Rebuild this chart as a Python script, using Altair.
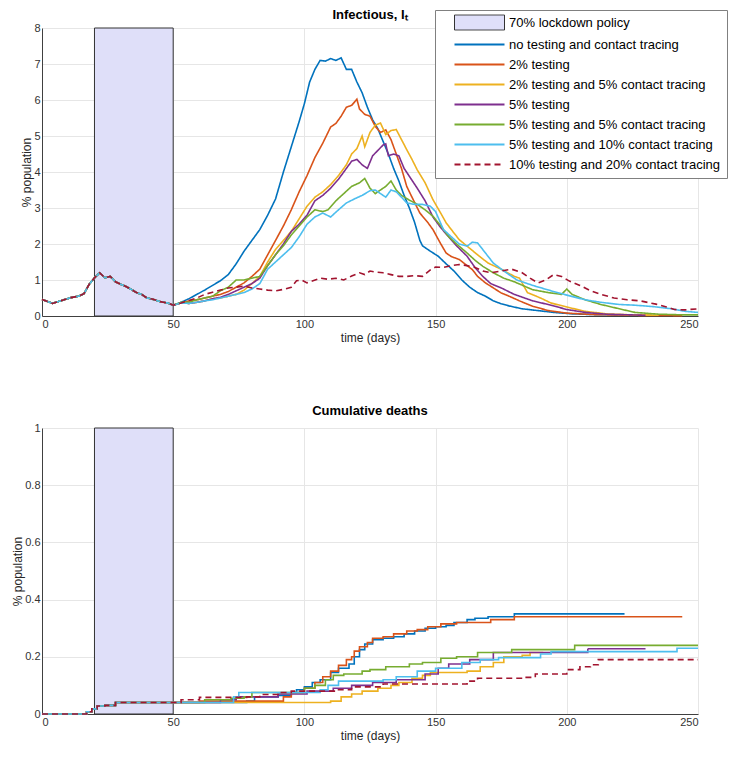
import altair as alt
import pandas as pd

# ---------------- names & colours ----------------
LD = "70% lockdown policy"
SERIES = [
    "no testing and contact tracing",
    "2% testing",
    "2% testing and 5% contact tracing",
    "5% testing",
    "5% testing and 5% contact tracing",
    "5% testing and 10% contact tracing",
    "10% testing and 20% contact tracing",
]
COLORS = ["#0072BD", "#D95319", "#EDB120", "#7E2F8E", "#77AC30", "#4DBEEE", "#A2142F"]
LD_FILL = "#DFDFF9"
LD_EDGE = "#333333"
LD_START = [20]
LD_END = [50]

# ---------------- infectious (top) ----------------
common_days = [0, 4, 7, 11, 14, 16, 18, 20, 22, 24, 26, 28, 30, 32, 34, 36, 38, 40, 42, 45, 48, 50]
common_vals = [0.46, 0.35, 0.42, 0.51, 0.55, 0.62, 0.88, 1.06, 1.2, 1.06, 1.1, 0.95, 0.88, 0.82, 0.74, 0.65, 0.6, 0.5, 0.47, 0.4, 0.36, 0.3]

inf_days = {
    SERIES[0]: [53, 56, 59, 62, 65, 68, 71, 74, 77, 80, 83, 86, 89, 92, 95, 98, 100, 102, 104, 106, 108, 110, 112, 114, 116, 118, 120, 122, 124, 126, 128, 130, 132, 134, 136, 138, 140, 142, 144, 145, 148, 151, 154, 157, 160, 163, 166, 169, 172, 175, 178, 183, 189, 195, 202, 210, 221],
    SERIES[1]: [53, 56, 59, 62, 65, 68, 71, 74, 77, 80, 83, 86, 89, 92, 95, 98, 101, 104, 107, 110, 112, 114, 116, 118, 120, 121, 123, 125, 127, 129, 131, 133, 135, 137, 139, 141, 144, 147, 149, 152, 154, 156, 159, 162, 164, 166, 169, 172, 175, 178, 182, 187, 193, 200, 210, 225, 244],
    SERIES[2]: [53, 56, 59, 62, 65, 68, 71, 74, 77, 80, 83, 86, 89, 92, 95, 98, 101, 104, 107, 110, 113, 116, 118, 120, 122, 123, 125, 127, 129, 131, 133, 135, 137, 139, 141, 143, 146, 149, 152, 154, 156, 159, 162, 166, 170, 175, 180, 182, 185, 190, 194, 200, 207, 215, 225, 235],
    SERIES[3]: [53, 56, 59, 62, 65, 68, 71, 74, 77, 80, 83, 86, 89, 92, 95, 98, 101, 104, 107, 110, 113, 116, 118, 120, 122, 124, 126, 128, 130, 131, 132, 134, 136, 138, 140, 143, 146, 149, 152, 155, 158, 162, 165, 168, 171, 175, 180, 187, 194, 200, 207, 215, 230],
    SERIES[4]: [53, 56, 59, 62, 65, 68, 71, 74, 77, 80, 83, 86, 89, 92, 95, 98, 101, 104, 107, 109, 112, 115, 118, 121, 123, 125, 127, 129, 131, 133, 135, 137, 140, 143, 146, 149, 152, 155, 158, 162, 165, 168, 172, 176, 180, 187, 193, 198, 200, 202, 207, 213, 220, 226, 235, 245, 250],
    SERIES[5]: [53, 56, 59, 62, 65, 68, 71, 74, 77, 80, 83, 86, 89, 92, 95, 98, 101, 104, 107, 110, 113, 116, 119, 122, 125, 127, 129, 131, 133, 135, 137, 139, 142, 145, 148, 150, 153, 156, 159, 162, 164, 166, 169, 172, 176, 181, 187, 194, 200, 207, 213, 220, 226, 233, 240, 245, 250],
    SERIES[6]: [53, 56, 59, 62, 65, 68, 71, 74, 77, 80, 83, 86, 89, 92, 95, 97, 99, 101, 103, 106, 109, 112, 115, 118, 121, 123, 125, 127, 130, 133, 136, 139, 142, 145, 148, 150, 153, 156, 159, 162, 165, 168, 171, 175, 179, 183, 186, 189, 192, 195, 198, 201, 205, 209, 213, 218, 223, 228, 234, 238, 241, 245, 250],
}
inf_vals = {
    SERIES[0]: [0.38, 0.48, 0.6, 0.72, 0.85, 0.98, 1.15, 1.45, 1.8, 2.1, 2.4, 2.8, 3.25, 4.0, 4.7, 5.4, 5.9, 6.5, 6.85, 7.1, 7.08, 7.15, 7.1, 7.17, 6.85, 6.85, 6.5, 6.2, 5.8, 5.45, 5.2, 4.85, 4.5, 4.1, 3.75, 3.35, 3.0, 2.6, 2.1, 1.95, 1.8, 1.66, 1.45, 1.25, 1.0, 0.8, 0.65, 0.55, 0.42, 0.34, 0.28, 0.2, 0.15, 0.1, 0.06, 0.04, 0.03],
    SERIES[1]: [0.36, 0.42, 0.45, 0.5, 0.55, 0.6, 0.68, 0.8, 0.92, 1.1, 1.3, 1.7, 2.1, 2.5, 2.95, 3.45, 3.9, 4.4, 4.8, 5.25, 5.35, 5.55, 5.8, 5.85, 6.02, 5.75, 5.6, 5.55, 5.27, 5.1, 5.17, 4.9, 4.5, 4.1, 3.6, 3.3, 2.86, 2.6, 2.4, 2.0, 1.75, 1.65, 1.57, 1.4, 1.29, 1.1, 0.92, 0.78, 0.64, 0.55, 0.42, 0.27, 0.15, 0.08, 0.04, 0.02, 0.01],
    SERIES[2]: [0.36, 0.35, 0.38, 0.42, 0.48, 0.5, 0.55, 0.6, 0.72, 0.9, 1.1, 1.5, 1.85, 2.1, 2.35, 2.7, 3.05, 3.3, 3.45, 3.65, 3.9, 4.2, 4.5, 4.65, 5.0, 4.7, 5.1, 5.3, 5.36, 5.04, 5.15, 5.18, 4.9, 4.62, 4.35, 4.06, 3.7, 3.23, 2.85, 2.59, 2.4, 2.12, 1.94, 1.7, 1.47, 1.3, 1.1, 1.05, 0.65, 0.5, 0.36, 0.25, 0.13, 0.06, 0.03, 0.02],
    SERIES[3]: [0.36, 0.35, 0.38, 0.42, 0.48, 0.52, 0.6, 0.7, 0.8, 0.9, 1.05, 1.4, 1.7, 2.0, 2.35, 2.55, 2.8, 3.2, 3.35, 3.55, 3.8, 4.1, 4.3, 4.35, 4.2, 4.1, 4.45, 4.6, 4.75, 4.78, 4.45, 4.5, 4.45, 4.1, 3.88, 3.55, 3.2, 2.75, 2.45, 2.2, 1.95, 1.66, 1.35, 1.1, 0.9, 0.78, 0.6, 0.42, 0.3, 0.18, 0.1, 0.05, 0.02],
    SERIES[4]: [0.38, 0.38, 0.45, 0.5, 0.55, 0.7, 0.8, 1.0, 1.0, 1.05, 1.1, 1.4, 1.7, 1.95, 2.25, 2.5, 2.75, 2.95, 2.9, 2.95, 3.2, 3.4, 3.6, 3.7, 3.82, 3.55, 3.4, 3.5, 3.6, 3.75, 3.5, 3.35, 3.22, 3.1, 2.95, 2.77, 2.5, 2.2, 2.0, 1.75, 1.55, 1.38, 1.2, 1.05, 0.95, 0.73, 0.65, 0.6, 0.75, 0.6, 0.45, 0.32, 0.2, 0.1, 0.05, 0.03, 0.03],
    SERIES[5]: [0.36, 0.35, 0.38, 0.42, 0.45, 0.5, 0.55, 0.6, 0.65, 0.75, 0.9, 1.3, 1.5, 1.7, 1.9, 2.2, 2.55, 2.75, 2.86, 2.75, 2.95, 3.14, 3.25, 3.35, 3.48, 3.5, 3.4, 3.3, 3.5, 3.45, 3.3, 3.14, 3.1, 3.1, 3.05, 2.9, 2.4, 2.2, 2.0, 1.94, 2.05, 2.03, 1.75, 1.47, 1.25, 1.0, 0.85, 0.7, 0.58, 0.45, 0.38, 0.32, 0.3, 0.26, 0.2, 0.13, 0.1],
    SERIES[6]: [0.36, 0.43, 0.5, 0.6, 0.66, 0.72, 0.78, 0.8, 0.83, 0.78, 0.75, 0.72, 0.7, 0.74, 0.8, 0.98, 1.0, 0.92, 0.97, 1.05, 1.02, 1.05, 1.0, 1.11, 1.2, 1.15, 1.25, 1.22, 1.2, 1.15, 1.1, 1.1, 1.12, 1.1, 1.28, 1.36, 1.35, 1.4, 1.43, 1.4, 1.35, 1.25, 1.2, 1.25, 1.3, 1.2, 1.05, 0.92, 1.0, 1.15, 1.1, 0.97, 0.85, 0.7, 0.6, 0.5, 0.45, 0.42, 0.33, 0.25, 0.18, 0.17, 0.2],
}

# ---------------- cumulative deaths (bottom), step points ----------------
death_common_days = [0, 17, 19, 21, 24, 28]
death_common_vals = [0.0, 0.008, 0.018, 0.028, 0.03, 0.04]
death_days = {
    SERIES[0]: [78, 81, 90, 95, 97, 100, 103, 106, 110, 113, 117, 119, 121, 123, 126, 130, 134, 138, 142, 146, 150, 154, 157, 162, 165, 170, 180, 222],
    SERIES[1]: [60, 92, 95, 100, 104, 107, 110, 113, 116, 118, 119, 121, 124, 126, 130, 134, 139, 143, 147, 152, 158, 171, 180, 244],
    SERIES[2]: [110, 114, 118, 122, 128, 133, 136, 141, 145, 148, 162, 167, 172, 176, 183, 186, 191],
    SERIES[3]: [68, 74, 90, 101, 111, 118, 126, 135, 146, 151, 155, 163, 172, 208, 230],
    SERIES[4]: [62, 72, 77, 80, 100, 104, 108, 111, 115, 122, 125, 131, 140, 145, 152, 158, 166, 179, 203, 250],
    SERIES[5]: [73, 75, 106, 109, 113, 130, 135, 143, 150, 160, 167, 174, 190, 194, 242, 250],
    SERIES[6]: [53, 60, 78, 83, 90, 95, 112, 118, 130, 162, 166, 184, 188, 200, 205, 209, 212, 250],
}
death_vals = {
    SERIES[0]: [0.045, 0.06, 0.065, 0.075, 0.085, 0.095, 0.11, 0.12, 0.145, 0.16, 0.175, 0.2, 0.225, 0.245, 0.26, 0.265, 0.27, 0.28, 0.29, 0.3, 0.305, 0.31, 0.32, 0.33, 0.335, 0.34, 0.35, 0.35],
    SERIES[1]: [0.045, 0.06, 0.075, 0.09, 0.11, 0.13, 0.15, 0.17, 0.19, 0.2, 0.22, 0.235, 0.25, 0.265, 0.27, 0.28, 0.29, 0.295, 0.305, 0.315, 0.32, 0.33, 0.34, 0.34],
    SERIES[2]: [0.045, 0.06, 0.07, 0.08, 0.09, 0.1, 0.11, 0.125, 0.135, 0.145, 0.15, 0.165, 0.18, 0.2, 0.205, 0.215, 0.215],
    SERIES[3]: [0.05, 0.06, 0.07, 0.08, 0.09, 0.1, 0.11, 0.12, 0.14, 0.16, 0.175, 0.19, 0.215, 0.228, 0.228],
    SERIES[4]: [0.05, 0.055, 0.06, 0.075, 0.09, 0.1, 0.12, 0.135, 0.14, 0.15, 0.155, 0.165, 0.175, 0.18, 0.195, 0.2, 0.215, 0.225, 0.24, 0.24],
    SERIES[5]: [0.06, 0.075, 0.085, 0.1, 0.115, 0.12, 0.13, 0.15, 0.16, 0.18, 0.19, 0.197, 0.21, 0.218, 0.23, 0.23],
    SERIES[6]: [0.05, 0.058, 0.06, 0.068, 0.075, 0.08, 0.085, 0.095, 0.105, 0.115, 0.125, 0.128, 0.14, 0.155, 0.165, 0.172, 0.19, 0.19],
}

X_TICKS = [0, 50, 100, 150, 200, 250]
Y1_TICKS = [0, 1, 2, 3, 4, 5, 6, 7, 8]
Y2_TICKS = [0, 0.2, 0.4, 0.6, 0.8, 1]

# ---------------- tables ----------------
rows = []
for s in SERIES:
    for d, v in zip(common_days + inf_days[s], common_vals + inf_vals[s]):
        rows.append({"day": d, "val": v, "series": s})
inf_df = pd.DataFrame(rows)

rows = []
for s in SERIES:
    for d, v in zip(death_common_days + death_days[s], death_common_vals + death_vals[s]):
        rows.append({"day": d, "val": v, "series": s})
death_df = pd.DataFrame(rows)

ld_df = pd.DataFrame({"start": LD_START, "end": LD_END})

FONT = "Liberation Sans"
W = 656

shape_expr = f"datum.value === '{LD}' ? 'M-1,-1.5H9V1.5H-1Z' : 'M-1,0H9'"
fill_expr = f"datum.value === '{LD}' ? '{LD_FILL}' : 'transparent'"
dash_expr = f"datum.value === '{SERIES[6]}' ? [6,4] : [1,0]"
sw_expr = f"datum.value === '{LD}' ? 1 : 2"

legend = alt.Legend(
    title=None,
    orient="none",
    legendX=393,
    legendY=-18,
    direction="vertical",
    symbolSize=100,
    symbolType={"expr": shape_expr},
    symbolFillColor={"expr": fill_expr},
    symbolDash={"expr": dash_expr},
    symbolStrokeWidth={"expr": sw_expr},
    labelOffset=43,
    labelFontSize=13,
    labelFont=FONT,
    labelColor="#000000",
    labelLimit=500,
    rowPadding=6,
    padding=6,
    symbolOffset=12,
    fillColor="white",
    strokeColor="#808080",
)


def panel(df, ymax, yticks, yfmt, title, title_offset, height, step, with_legend):
    xaxis = alt.Axis(values=X_TICKS, title="time (days)")
    yaxis = alt.Axis(values=yticks, title="% population", format=yfmt)
    xs = alt.Scale(domain=[0, 250], nice=False)
    ys = alt.Scale(domain=[0, ymax], nice=False)
    rect = alt.Chart(ld_df).mark_rect(fill=LD_FILL, stroke=LD_EDGE, strokeWidth=1).encode(
        x=alt.X("start:Q", scale=xs, axis=xaxis),
        x2="end:Q",
        y=alt.datum(0, scale=ys, axis=yaxis),
        y2=alt.datum(ymax),
    )
    line = alt.Chart(df).mark_line(
        strokeWidth=1.6, interpolate="step-after" if step else "linear"
    ).encode(
        x=alt.X("day:Q", scale=xs, axis=xaxis),
        y=alt.Y("val:Q", scale=ys, axis=yaxis),
        color=alt.Color(
            "series:N",
            scale=alt.Scale(domain=[LD] + SERIES, range=[LD_EDGE] + COLORS),
            legend=legend if with_legend else None,
        ),
        strokeDash=alt.StrokeDash(
            "series:N",
            scale=alt.Scale(domain=SERIES, range=[[1, 0]] * 6 + [[6, 4]]),
            legend=None,
        ),
    )
    return alt.layer(rect, line).properties(
        width=W,
        height=height,
        title=alt.Title(title, fontSize=13, fontWeight="bold", font=FONT, color="#000000",
                        offset=title_offset, frame="group"),
    )


top = panel(inf_df, 8, Y1_TICKS, "d", "Infectious, Iₜ", -12, 288, False, True)
bottom = panel(death_df, 1, Y2_TICKS, ".1~f", "Cumulative deaths", 4, 286, True, False)

chart = (
    alt.vconcat(top, bottom, spacing=62)
    .resolve_scale(color="independent", strokeDash="independent")
    .resolve_legend(color="independent", strokeDash="independent")
    .configure_view(stroke=None)
    .configure_axis(
        grid=True,
        gridColor="#E6E6E6",
        domainColor="#404040",
        labelColor="#333333",
        titleColor="#262626",
        ticks=False,
        labelFont=FONT,
        titleFont=FONT,
        labelFontSize=11,
        titleFontSize=12,
        titleFontWeight="normal",
        labelPadding=2,
    )
    .configure_axisY(titlePadding=0)
    .configure_axisX(titlePadding=3)
    .properties(background="white", padding={"left": 3, "top": 0, "right": 0, "bottom": 6})
)

chart.save("out.html", embed_options={"renderer": "svg", "actions": False})
